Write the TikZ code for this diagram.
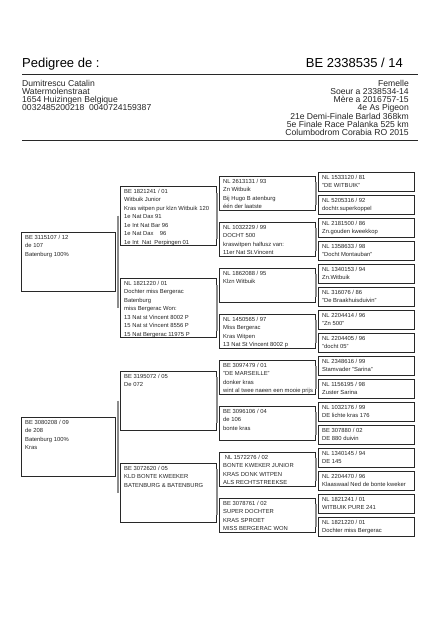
\documentclass[tikz,border=0pt]{standalone}
\usepackage{fontspec}
\setmainfont{Liberation Sans}
\usetikzlibrary{positioning}
\definecolor{pgtext}{RGB}{35,35,35}
\definecolor{pgline}{RGB}{40,40,40}
\definecolor{pglink}{RGB}{140,140,140}

\begin{document}
\begin{tikzpicture}[x=1pt,y=-1pt,
  box/.style={draw=pgline,line width=0.8pt,anchor=north west,inner sep=0pt,
              outer sep=0pt,minimum width=96pt},
  anc/.style={box,minimum width=94pt,minimum height=59pt},
  par/.style={box,minimum height=59pt},
  gpar/.style={box,minimum height=34pt},
  ggpar/.style={box,minimum height=19pt},
  info/.style={anchor=north west,align=left,inner xsep=4pt,inner ysep=2.6pt,
               text=pgtext,font=\fontsize{5.85}{8.5}\selectfont},
  owner/.style={inner sep=0pt,text=pgtext,font=\fontsize{8.6}{7.95}\selectfont},
  link/.style={draw=pglink,line width=1.1pt}]
  \useasboundingbox (0,0) rectangle (439,622);
  % Header
  \node[anchor=base west,inner sep=0pt,font=\fontsize{13}{15}\selectfont] (title) at (22,67.5) {Pedigree de :};
  \node[anchor=base east,inner sep=0pt,font=\fontsize{13}{15}\selectfont] (ring) at (403,67.5) {BE 2338535 / 14};
  \draw[pgline,line width=0.9pt] (22,74) -- (418,74);
  \node[owner,anchor=north west,align=left] (owner) at (22,80)
    {Dumitrescu Catalin\\Watermolenstraat\\1654 Huizingen Belgique\\0032485200218\ \ 0040724159387};
  \node[owner,anchor=north east,align=right] (notes) at (409,80)
    {Femelle\\Soeur a 2338534-14\\Mère a 2016757-15\\4e As Pigeon\\21e Demi-Finale Barlad 368km\\5e Finale Race Palanka 525 km\\Columbodrom Corabia RO 2015};
  \draw[pgline,line width=0.9pt] (22,140.7) -- (418,140.7);

  % Parents
  \node[anc] (a1) at (21,232) {};
  \node[info] (a1t) at (a1.north west) {BE 3115107 / 12\\de 107\\Batenburg 100\%};
  \node[anc] (a2) at (21,417) {};
  \node[info] (a2t) at (a2.north west) {BE 3080208 / 09\\de 208\\Batenburg 100\%\\Kras};

  % Grandparents
  \node[par] (b1) at (120,186) {};
  \node[info] (b1t) at (b1.north west) {BE 1821241 / 01\\Witbuik Junior\\Kras witpen pur klzn Witbuik 120\\1e Nat Dax 91\\1e Int Nat Bar 96\\1e Nat Dax\ \ \ \ 96\\1e Int\ \ Nat\ \ Perpingen 01};
  \node[par] (b2) at (120,278) {};
  \node[info] (b2t) at (b2.north west) {NL 1821220 / 01\\Dochter miss Bergerac\\Batenburg\\miss Bergerac Won:\\13 Nat st Vincent 8002 P\\15 Nat st Vincent 8556 P\\15 Nat Bergerac 11975 P};
  \node[par] (b3) at (120,371) {};
  \node[info] (b3t) at (b3.north west) {BE 3195072 / 05\\De 072};
  \node[par] (b4) at (120,463) {};
  \node[info] (b4t) at (b4.north west) {BE 3072620 / 05\\KLD BONTE KWEEKER\\BATENBURG \& BATENBURG};

  % Great-grandparents
  \node[gpar] (c1) at (219,176) {};
  \node[info] (c1t) at (c1.north west) {NL 2613131 / 93\\Zn Witbuik\\Bij Hugo B atenburg\\één der laatste};
  \node[gpar] (c2) at (219,222) {};
  \node[info] (c2t) at (c2.north west) {NL 1032229 / 99\\DOCHT 500\\kraswitpen halfusz van:\\11er Nat St.Vincent};
  \node[gpar] (c3) at (219,268) {};
  \node[info] (c3t) at (c3.north west) {NL 1862088 / 95\\Klzn Witbuik};
  \node[gpar] (c4) at (219,314) {};
  \node[info] (c4t) at (c4.north west) {NL 1450565 / 97\\Miss Bergerac\\Kras Witpen\\13 Nat St Vincent 8002 p};
  \node[gpar] (c5) at (219,360) {};
  \node[info] (c5t) at (c5.north west) {BE 3097479 / 01\\"DE MARSEILLE"\\donker kras\\wint al twee naeen een mooie prijs};
  \node[gpar] (c6) at (219,406) {};
  \node[info] (c6t) at (c6.north west) {BE 3096106 / 04\\de 106\\bonte kras};
  \node[gpar] (c7) at (219,452) {};
  \node[info] (c7t) at (c7.north west) {\ NL 1572276 / 02\\BONTE KWEKER JUNIOR\\KRAS DONK WITPEN\\ALS RECHTSTREEKSE};
  \node[gpar] (c8) at (219,498) {};
  \node[info] (c8t) at (c8.north west) {BE 3078761 / 02\\SUPER DOCHTER\\KRAS SPROET\\MISS BERGERAC WON};

  % Great-great-grandparents
  \node[ggpar] (d1) at (318,172) {};
  \node[info] (d1t) at (d1.north west) {NL 1533120 / 81\\"DE WITBUIK"};
  \node[ggpar] (d2) at (318,195) {};
  \node[info] (d2t) at (d2.north west) {NL 5205316 / 92\\dochtr.superkoppel};
  \node[ggpar] (d3) at (318,218) {};
  \node[info] (d3t) at (d3.north west) {NL 2181500 / 86\\Zn.gouden kweekkop};
  \node[ggpar] (d4) at (318,241) {};
  \node[info] (d4t) at (d4.north west) {NL 1358633 / 98\\"Docht Montauban"};
  \node[ggpar] (d5) at (318,264) {};
  \node[info] (d5t) at (d5.north west) {NL 1340153 / 94\\Zn.Witbuik};
  \node[ggpar] (d6) at (318,287) {};
  \node[info] (d6t) at (d6.north west) {NL 316076 / 86\\"De Braakhuisduivin"};
  \node[ggpar] (d7) at (318,310) {};
  \node[info] (d7t) at (d7.north west) {NL 2204414 / 96\\"Zn 500"};
  \node[ggpar] (d8) at (318,333) {};
  \node[info] (d8t) at (d8.north west) {NL 2204405 / 96\\"docht 05"};
  \node[ggpar] (d9) at (318,356) {};
  \node[info] (d9t) at (d9.north west) {NL 2348616 / 99\\Stamvader "Sarina"};
  \node[ggpar] (d10) at (318,379) {};
  \node[info] (d10t) at (d10.north west) {NL 1156195 / 98\\Zuster Sarina};
  \node[ggpar] (d11) at (318,402) {};
  \node[info] (d11t) at (d11.north west) {NL 1032176 / 99\\DE lichte kras 176};
  \node[ggpar] (d12) at (318,425) {};
  \node[info] (d12t) at (d12.north west) {BE 307880 / 02\\DE 880 duivin};
  \node[ggpar] (d13) at (318,448) {};
  \node[info] (d13t) at (d13.north west) {NL 1340145 / 94\\DE 145};
  \node[ggpar] (d14) at (318,471) {};
  \node[info] (d14t) at (d14.north west) {NL 2204470 / 96\\Klaaswaal Ned de bonte kweker};
  \node[ggpar] (d15) at (318,494) {};
  \node[info] (d15t) at (d15.north west) {NL 1821241 / 01\\WITBUIK PURE 241};
  \node[ggpar] (d16) at (318,517) {};
  \node[info] (d16t) at (d16.north west) {NL 1821220 / 01\\Dochter miss Bergerac};

  % Brackets between generations
  \draw[link] ([xshift=-2pt]b1.west) -- ([xshift=-2pt]b2.west);
  \draw[link] ([xshift=-2pt]b3.west) -- ([xshift=-2pt]b4.west);
  \draw[link] ([xshift=-2pt]c1.west) -- ([xshift=-2pt]c2.west);
  \draw[link] ([xshift=-2pt]c3.west) -- ([xshift=-2pt]c4.west);
  \draw[link] ([xshift=-2pt]c5.west) -- ([xshift=-2pt]c6.west);
  \draw[link] ([xshift=-2pt]c7.west) -- ([xshift=-2pt]c8.west);
  \draw[link] ([xshift=-2pt]d1.west) -- ([xshift=-2pt]d2.west);
  \draw[link] ([xshift=-2pt]d3.west) -- ([xshift=-2pt]d4.west);
  \draw[link] ([xshift=-2pt]d5.west) -- ([xshift=-2pt]d6.west);
  \draw[link] ([xshift=-2pt]d7.west) -- ([xshift=-2pt]d8.west);
  \draw[link] ([xshift=-2pt]d9.west) -- ([xshift=-2pt]d10.west);
  \draw[link] ([xshift=-2pt]d11.west) -- ([xshift=-2pt]d12.west);
  \draw[link] ([xshift=-2pt]d13.west) -- ([xshift=-2pt]d14.west);
  \draw[link] ([xshift=-2pt]d15.west) -- ([xshift=-2pt]d16.west);
\end{tikzpicture}
\end{document}
